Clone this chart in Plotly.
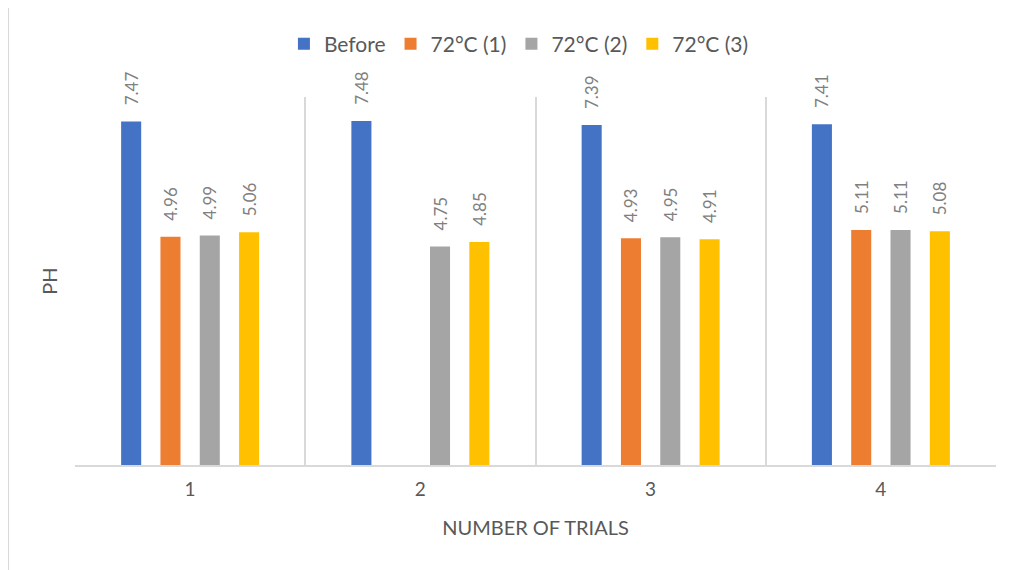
import plotly.graph_objects as go

trials = ["1", "2", "3", "4"]
series_names = ["Before", "72°C (1)", "72°C (2)", "72°C (3)"]
before = [7.47, 7.48, 7.39, 7.41]
c72_1 = [4.96, None, 4.93, 5.11]
c72_2 = [4.99, 4.75, 4.95, 5.11]
c72_3 = [5.06, 4.85, 4.91, 5.08]
colors = ["#4472C4", "#ED7D31", "#A5A5A5", "#FFC000"]

FONT = "Lato, Open Sans, sans-serif"
PAD = "\u00a0\u00a0\u00a0"

fig = go.Figure()
for name, vals, col in zip(series_names, [before, c72_1, c72_2, c72_3], colors):
    fig.add_trace(go.Bar(
        x=trials, y=vals, name=name,
        marker=dict(color=col, line=dict(width=0)),
        text=[f"{PAD}{v:.2f}" if v is not None else "" for v in vals],
        textposition="outside", textangle=-90, constraintext="none",
        textfont=dict(family=FONT, size=17, color="#808080"),
        cliponaxis=False,
    ))

fig.update_layout(
    width=1014, height=570,
    margin=dict(l=67, r=26, t=89, b=113),
    paper_bgcolor="white", plot_bgcolor="white",
    barmode="group", bargap=0.317, bargroupgap=0.49,
    font=dict(family=FONT, color="#595959"),
    showlegend=True,
    legend=dict(orientation="h", x=0.482, xanchor="center", y=1.144, yanchor="middle",
                font=dict(size=21, color="#595959"),
                traceorder="normal"),
    xaxis=dict(
        type="category", tickson="boundaries", showgrid=True, gridcolor="#d9d9d9",
        gridwidth=1.5, ticks="", showline=True, linecolor="#d9d9d9", linewidth=2,
        tickfont=dict(size=19, color="#595959"), ticklabelstandoff=6,
        title=dict(text="NUMBER OF TRIALS", font=dict(size=20, color="#595959"), standoff=22),
    ),
    yaxis=dict(
        range=[0, 8], showgrid=False, showticklabels=False, ticks="", zeroline=False,
        showline=False,
        title=dict(text="PH", font=dict(size=20, color="#595959"), standoff=11),
    ),
    shapes=[dict(type="rect", xref="paper", yref="paper",
                 x0=-0.0727, x1=1.05, y0=-0.35, y1=1.247,
                 line=dict(color="#d9d9d9", width=2), fillcolor="rgba(0,0,0,0)",
                 layer="below")],
)

fig.write_html("out.html")
